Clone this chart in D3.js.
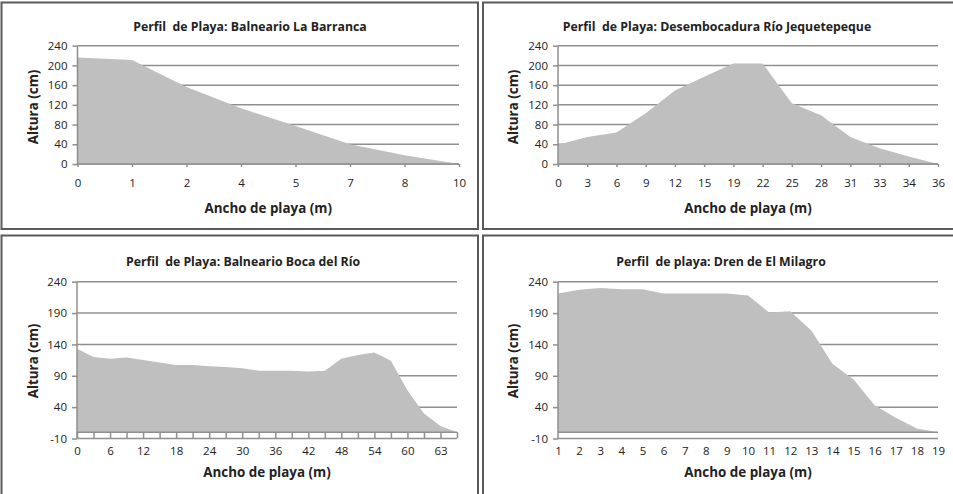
<!DOCTYPE html>
<html>
<head>
<meta charset="utf-8">
<script src="https://cdn.jsdelivr.net/npm/d3@7/dist/d3.min.js"></script>
<style>
  body { margin: 0; background: #fff; }
  text { font-family: "Open Sans", sans-serif; fill: #222; }
</style>
</head>
<body>
<svg id="chart" width="953" height="494"></svg>
<script>
// Balneario La Barranca
const barrancaX = ["0", "1", "2", "4", "5", "7", "8", "10"];
const barrancaY = [216, 211, 156, 113, 77, 40, 18, 0];

// Desembocadura Río Jequetepeque
const jequeX = ["0", "3", "6", "9", "12", "15", "19", "22", "25", "28", "31", "33", "34", "36"];
const jequeY = [39, 55, 64, 103, 149, 177, 204, 204, 123, 99, 55, 32, 15, 0];

// Balneario Boca del Río (every second category labelled)
const bocaX = ["0", "3", "6", "9", "12", "15", "18", "21", "24", "27", "30", "33",
  "36", "39", "42", "45", "48", "51", "54", "57", "60", "62", "63", "65"];
const bocaY = [133, 120, 117, 119, 115, 111, 107, 107, 105, 104, 102, 98,
  98, 98, 97, 98, 117, 123, 127, 114, 67, 30, 10, 0];

// Dren de El Milagro
const milagroX = ["1", "2", "3", "4", "5", "6", "7", "8", "9", "10",
  "11", "12", "13", "14", "15", "16", "17", "18", "19"];
const milagroY = [221, 227, 230, 228, 228, 221, 221, 221, 221, 218,
  191, 193, 162, 109, 84, 43, 23, 6, 0];

const ticksTop = [0, 40, 80, 120, 160, 200, 240];
const ticksBottom = [-10, 40, 90, 140, 190, 240];

const svg = d3.select("#chart");

function drawPanel(p) {
  const g = svg.append("g");

  // panel frame
  g.append("rect")
    .attr("x", p.box[0]).attr("y", p.box[1])
    .attr("width", p.box[2]).attr("height", p.box[3])
    .attr("fill", "#fff")
    .attr("stroke", "#5a5a5a")
    .attr("stroke-width", 2);

  const x = d3.scalePoint().domain(p.cats).range([p.x0, p.x1]).padding(0);
  const y = d3.scaleLinear().domain(p.domain).range([p.yBot, p.yTop]);

  // gridlines
  g.selectAll(".grid")
    .data(p.ticks)
    .enter()
    .append("line")
    .attr("x1", p.x0).attr("x2", p.x1)
    .attr("y1", (d) => y(d)).attr("y2", (d) => y(d))
    .attr("stroke", "#8f8f8f")
    .attr("stroke-width", 1.5);

  // area, filled down to zero
  const area = d3.area()
    .x((d, i) => x(p.cats[i]))
    .y0(y(0))
    .y1((d) => y(d));
  g.append("path")
    .datum(p.values)
    .attr("d", area)
    .attr("fill", "#bfbfbf");

  // y axis
  const yAxis = d3.axisLeft(y).tickValues(p.ticks).tickSize(5).tickPadding(5)
    .tickFormat((d) => String(d));
  const ya = g.append("g").attr("transform", `translate(${p.x0},0)`).call(yAxis);
  ya.select(".domain").attr("stroke", "#8f8f8f").attr("stroke-width", 1.5)
    .attr("d", `M0,${p.yTop}V${p.yBot}`);
  ya.selectAll(".tick line").attr("stroke", "#8f8f8f").attr("stroke-width", 1.5);
  ya.selectAll(".tick text").attr("font-size", 11.5).attr("fill", "#222")
    .attr("font-family", "'Open Sans', sans-serif");

  // x axis (crosses at zero)
  const xAxis = d3.axisBottom(x)
    .tickSize(p.tickLen)
    .tickPadding(p.labelY - y(0) - p.tickLen)
    .tickFormat((d, i) => (i % p.every === 0 ? d : ""));
  const xa = g.append("g").attr("transform", `translate(0,${y(0)})`).call(xAxis);
  xa.select(".domain").attr("stroke", "#8f8f8f").attr("stroke-width", 1.5)
    .attr("d", `M${p.x0},0H${p.x1}`);
  xa.selectAll(".tick line").attr("stroke", "#8f8f8f").attr("stroke-width", 1.5);
  xa.selectAll(".tick text").attr("font-size", 11.5).attr("fill", "#222")
    .attr("font-family", "'Open Sans', sans-serif");

  // titles
  g.append("text")
    .attr("x", p.titleX).attr("y", p.titleY)
    .attr("text-anchor", "middle")
    .attr("font-size", 12.3).attr("font-weight", "bold")
    .style("white-space", "pre")
    .text(p.title);

  g.append("text")
    .attr("x", (p.x0 + p.x1) / 2).attr("y", p.xTitleY)
    .attr("text-anchor", "middle")
    .attr("font-size", 13.4).attr("font-weight", "bold")
    .text("Ancho de playa (m)");

  g.append("text")
    .attr("transform", `translate(${p.yTitleX},${p.yTitleY}) rotate(-90)`)
    .attr("text-anchor", "middle")
    .attr("font-size", 13.4).attr("font-weight", "bold")
    .text("Altura (cm)");
}

const topRow = { domain: [0, 240], ticks: ticksTop, yTop: 45.7, yBot: 164, labelY: 178.5,
  titleY: 31, xTitleY: 213, yTitleY: 107, tickLen: 3, every: 1 };
const botRow = { domain: [-10, 240], ticks: ticksBottom, yTop: 281.7, yBot: 438.5, labelY: 447,
  titleY: 266, xTitleY: 477, yTitleY: 361, every: 1 };

drawPanel(Object.assign({}, topRow, {
  box: [1.5, 2.5, 476.5, 226.5], x0: 77.5, x1: 459, cats: barrancaX, values: barrancaY,
  title: "Perfil  de Playa: Balneario La Barranca", titleX: 250, yTitleX: 38
}));
drawPanel(Object.assign({}, topRow, {
  box: [483, 2.5, 480, 226.5], x0: 558, x1: 938, cats: jequeX, values: jequeY,
  title: "Perfil  de Playa: Desembocadura Río Jequetepeque", titleX: 717, yTitleX: 518
}));
drawPanel(Object.assign({}, botRow, {
  box: [1.5, 235.5, 476.5, 270], x0: 77, x1: 457, cats: bocaX, values: bocaY,
  title: "Perfil  de Playa: Balneario Boca del Río", titleX: 243, yTitleX: 38,
  tickLen: 6, every: 2
}));
drawPanel(Object.assign({}, botRow, {
  box: [483, 235.5, 480, 270], x0: 558, x1: 938, cats: milagroX, values: milagroY,
  title: "Perfil  de playa: Dren de El Milagro", titleX: 721, yTitleX: 518,
  tickLen: 0
}));
</script>
</body>
</html>
